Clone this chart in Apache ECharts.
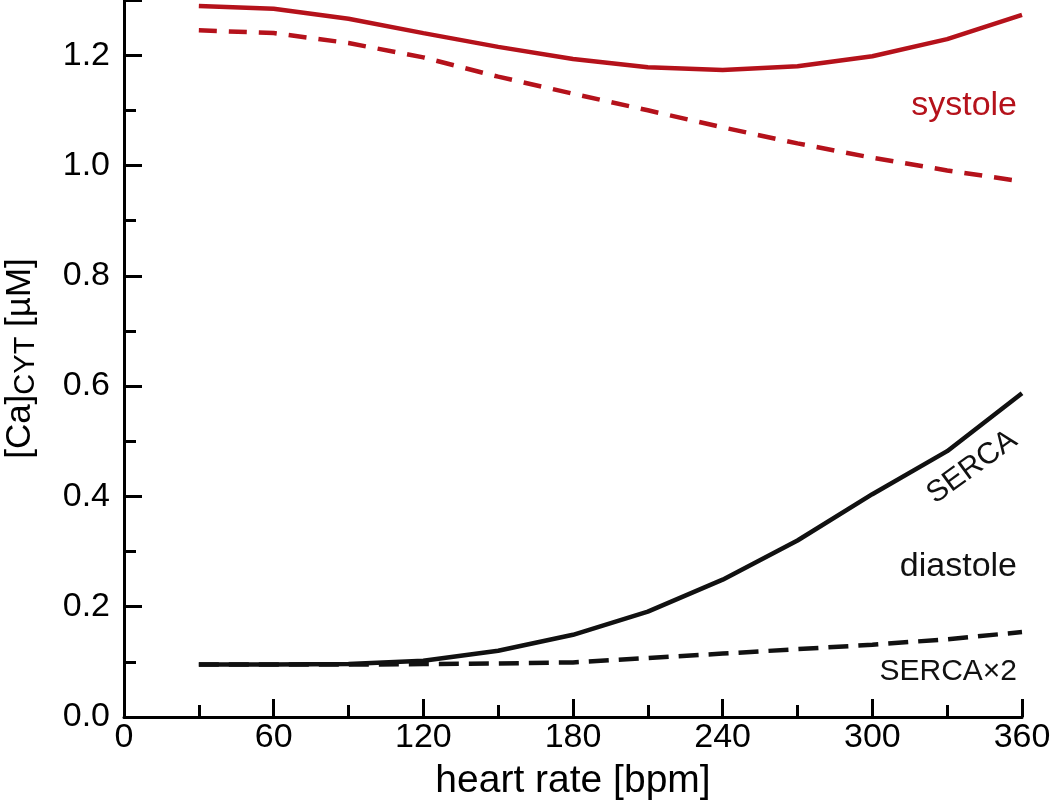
<!DOCTYPE html>
<html><head><meta charset="utf-8">
<script src="https://cdn.jsdelivr.net/npm/echarts@6/dist/echarts.min.js"></script>
<style>html,body{margin:0;padding:0;background:#fff}#c{width:1050px;height:806px}</style>
</head><body><div id="c"></div>
<script>
const heartRate = [30, 60, 90, 120, 150, 180, 210, 240, 270, 300, 330, 360];
const systoleSERCA = [1.289, 1.284, 1.266, 1.240, 1.215, 1.193, 1.178, 1.173, 1.180, 1.198, 1.229, 1.273];
const systoleSERCA2 = [1.245, 1.240, 1.222, 1.196, 1.161, 1.130, 1.100, 1.069, 1.040, 1.014, 0.991, 0.971];
const diastoleSERCA = [0.095, 0.095, 0.096, 0.102, 0.120, 0.149, 0.191, 0.249, 0.320, 0.404, 0.482, 0.587];
const diastoleSERCA2 = [0.095, 0.095, 0.095, 0.096, 0.097, 0.099, 0.107, 0.115, 0.123, 0.131, 0.141, 0.154];
const xTicks = [0, 60, 120, 180, 240, 300, 360];
const yTicks = [0, 0.2, 0.4, 0.6, 0.8, 1.0, 1.2];

const RED = '#b5121b';
const BLACK = '#111111';
const FONT = 'Liberation Sans, Arial, sans-serif';

function pairs(xs, ys) { return xs.map((x, i) => [x, ys[i]]); }

const chart = echarts.init(document.getElementById('c'), null, { renderer: 'canvas' });

const axisLineStyle = { color: '#000', width: 3 };

chart.setOption({
  animation: false,
  backgroundColor: '#fff',
  grid: { left: 124, right: 28, top: 0, bottom: 89, containLabel: false, outerBoundsMode: 'none' },
  xAxis: {
    type: 'value', min: 0, max: 360, interval: 60,
    axisLine: { show: true, lineStyle: axisLineStyle },
    axisTick: { show: true, inside: true, length: 18, lineStyle: { color: '#000', width: 3 } },
    minorTick: { show: true, splitNumber: 2, length: 12, lineStyle: { color: '#000', width: 3 } },
    splitLine: { show: false },
    axisLabel: { color: '#000', fontSize: 34, fontFamily: FONT, margin: 4,
      customValues: xTicks, formatter: v => String(v) },
    name: 'heart rate [bpm]', nameLocation: 'middle', nameGap: 45,
    nameTextStyle: { color: '#000', fontSize: 39, fontFamily: FONT }
  },
  yAxis: [{
    type: 'value', min: 0, max: 1.3, interval: 0.1,
    axisLine: { show: true, lineStyle: axisLineStyle },
    axisTick: { show: true, inside: true, length: 12, lineStyle: { color: '#000', width: 3 } },
    splitLine: { show: false },
    axisLabel: { color: '#000', fontSize: 34, fontFamily: FONT, margin: 14,
      customValues: yTicks, formatter: v => v.toFixed(1) },
    name: '{m|[Ca]}{s|CYT}{m| [µM]}', nameLocation: 'middle', nameRotate: 90, nameGap: 84,
    nameTextStyle: {
      color: '#000', fontFamily: FONT,
      rich: {
        m: { fontSize: 35, lineHeight: 40, fontFamily: FONT, color: '#000' },
        s: { fontSize: 29, lineHeight: 28, fontFamily: FONT, color: '#000', verticalAlign: 'bottom' }
      }
    }
  }, {
    type: 'value', min: 0, max: 1.3, interval: 0.2, position: 'left', offset: 0,
    axisLine: { show: true, lineStyle: axisLineStyle },
    axisTick: { show: true, inside: true, length: 18, lineStyle: { color: '#000', width: 3 } },
    axisLabel: { show: false },
    splitLine: { show: false }
  }],
  series: [
    { type: 'line', name: 'systole SERCA', data: pairs(heartRate, systoleSERCA), showSymbol: false,
      lineStyle: { color: RED, width: 4.5 } },
    { type: 'line', name: 'systole SERCA×2', data: pairs(heartRate, systoleSERCA2), showSymbol: false,
      lineStyle: { color: RED, width: 4.5, type: [18, 12] } },
    { type: 'line', name: 'diastole SERCA', data: pairs(heartRate, diastoleSERCA), showSymbol: false,
      lineStyle: { color: BLACK, width: 4.5 } },
    { type: 'line', name: 'diastole SERCA×2', data: pairs(heartRate, diastoleSERCA2), showSymbol: false,
      lineStyle: { color: BLACK, width: 4.5, type: [20, 10] } }
  ]
});

// annotations anchored in data coordinates
const notes = [
  { text: 'systole', at: [358.0, 1.109], color: RED, size: 34, align: 'right', rot: 0 },
  { text: 'diastole', at: [358.0, 0.273], color: BLACK, size: 34, align: 'right', rot: 0 },
  { text: 'SERCA×2', at: [358.0, 0.082], color: BLACK, size: 30, align: 'right', rot: 0 },
  { text: 'SERCA', at: [340, 0.453], color: BLACK, size: 30, align: 'center', rot: 36 }
];
chart.setOption({
  graphic: notes.map(n => {
    const p = chart.convertToPixel({ gridIndex: 0 }, n.at);
    return {
      type: 'text', x: p[0], y: p[1], rotation: n.rot * Math.PI / 180,
      style: { text: n.text, fill: n.color, font: n.size + 'px ' + FONT,
        align: n.align, verticalAlign: 'middle' }
    };
  })
});
</script>
</body></html>
